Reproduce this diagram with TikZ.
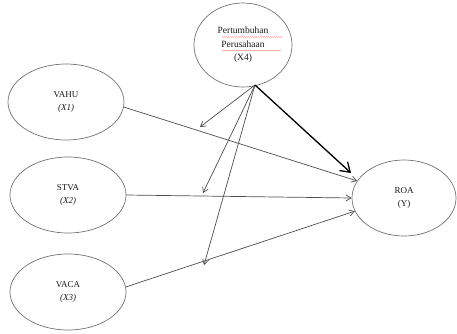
\documentclass[tikz,border=0pt]{standalone}
\usepackage{fontspec}
\setmainfont{Liberation Serif}
\usetikzlibrary{shapes.geometric,arrows.meta,decorations.pathmorphing}
\begin{document}
\begin{tikzpicture}[x=1pt,y=-1pt,
  var/.style={ellipse,draw=black!55,line width=0.7pt,inner sep=0pt,align=center,
    font=\fontsize{9}{12.5}\selectfont,text=black!90},
  path/.style={draw=black!70,line width=0.7pt,-{Straight Barb[length=5pt,width=6pt]}},
  bigpath/.style={draw=black,line width=1.3pt,-{Straight Barb[length=9pt,width=12pt]}},
  spell/.style={draw=red!45,line width=0.5pt,decorate,decoration={snake,amplitude=0.3pt,segment length=2pt}}]
\useasboundingbox (0,0) rectangle (457,333);
\node[var,minimum width=98pt,minimum height=84pt,font=\fontsize{9.5}{13.5}\selectfont] (x4) at (243,45) {Pertumbuhan\\Perusahaan\\(X4)};
\node[var,minimum width=116pt,minimum height=76pt] (vahu) at (66,102) {VAHU\\\textit{(X1)}};
\node[var,minimum width=116pt,minimum height=76pt] (stva) at (68,195) {STVA\\\textit{(X2)}};
\node[var,minimum width=116pt,minimum height=76pt] (vaca) at (68,292) {VACA\\\textit{(X3)}};
\node[var,minimum width=104pt,minimum height=76pt] (roa) at (404,198) {ROA\\(Y)};
\draw[spell] (222,37) -- (283,37);
\draw[spell] (222,50.5) -- (281,50.5);
\coordinate (x4b) at (255,85);
\coordinate (m1) at (200,127);
\coordinate (m2) at (203,193);
\coordinate (m3) at (204,265);
\coordinate (tip) at (351,173);
\draw[path] (vahu.-5) -- (roa.160);
\draw[path] (stva.east) -- (roa.west);
\draw[path] (vaca.5) -- (roa.195);
\draw[path] (x4b) -- (m1);
\draw[path] (x4b) -- (m2);
\draw[path] (x4b) -- (m3);
\draw[bigpath] (x4b) -- (tip);
\end{tikzpicture}
\end{document}
